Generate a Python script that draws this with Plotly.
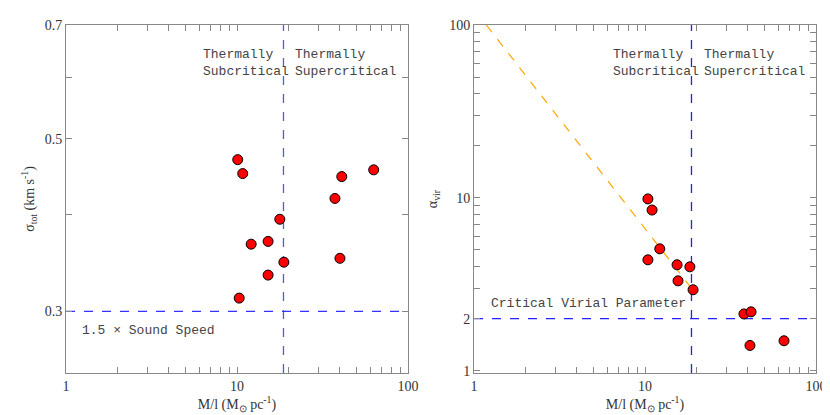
import plotly.graph_objects as go
import numpy as np

# Left panel data
ml_left = [10.1, 10.8, 17.8, 12.1, 15.2, 18.8, 15.2, 10.3, 37.4, 41.0, 40.0, 63.0]
sigma_tot = [0.470, 0.451, 0.394, 0.366, 0.369, 0.347, 0.334, 0.312, 0.419, 0.447, 0.351, 0.456]
# Right panel data
ml_right = [10.4, 11.0, 12.2, 10.4, 15.4, 18.3, 15.6, 19.1, 37.9, 41.7, 41.1, 65.0]
alpha_vir = [9.86, 8.5, 5.07, 4.38, 4.10, 3.99, 3.31, 2.94, 2.13, 2.19, 1.40, 1.49]
crit_ml = 18.7
sound_speed_line = 0.30
crit_alpha = 2.0
fit_x = [1.18, 19.0]
fit_y = [100.0, 2.94]
x_ticks = [1, 2, 3, 4, 5, 6, 7, 8, 9, 10, 20, 30, 40, 50, 60, 70, 80, 90, 100]
x_labels = ["1", "", "", "", "", "", "", "", "", "10", "", "", "", "", "", "", "", "", "100"]
y1_ticks = [0.3, 0.4, 0.5, 0.6, 0.7]
y1_labels = ["0.3", "", "0.5", "", "0.7"]
y2_ticks = [1, 2, 3, 4, 5, 6, 7, 8, 9, 10, 20, 30, 40, 50, 60, 70, 80, 90, 100]
y2_labels = ["1", "2", "", "", "", "", "", "", "", "10", "", "", "", "", "", "", "", "", "100"]

fig = go.Figure()
mk = dict(color="red", size=10, line=dict(color="black", width=1))
fig.add_trace(go.Scatter(x=fit_x, y=fit_y, mode="lines", line=dict(color="orange", dash="dash", width=1.2), xaxis="x2", yaxis="y2"))
fig.add_trace(go.Scatter(x=[crit_ml, crit_ml], y=[0.25, 0.7], mode="lines", line=dict(color="#5555ff", dash="dash", width=1.3), xaxis="x", yaxis="y"))
fig.add_trace(go.Scatter(x=[1, 100], y=[sound_speed_line]*2, mode="lines", line=dict(color="#3333ff", dash="dash", width=1.3), xaxis="x", yaxis="y"))
fig.add_trace(go.Scatter(x=[crit_ml, crit_ml], y=[0.97, 100], mode="lines", line=dict(color="#2222ff", dash="dash", width=1.3), xaxis="x2", yaxis="y2"))
fig.add_trace(go.Scatter(x=[1, 100], y=[crit_alpha]*2, mode="lines", line=dict(color="#2222ff", dash="dash", width=1.3), xaxis="x2", yaxis="y2"))
fig.add_trace(go.Scatter(x=ml_left, y=sigma_tot, mode="markers", marker=mk, xaxis="x", yaxis="y"))
fig.add_trace(go.Scatter(x=ml_right, y=alpha_vir, mode="markers", marker=mk, xaxis="x2", yaxis="y2"))

tf = dict(family="Liberation Mono", size=13, color="#444")
lf = dict(family="Liberation Serif", size=14, color="#333")
ax = dict(ticks="inside", ticklen=6, mirror="ticks", showline=True, linecolor="#888", linewidth=1,
          showgrid=False, zeroline=False, tickfont=lf, tickcolor="#888", automargin=False)
xt = "M/l (M<sub>⊙</sub> pc<sup>-1</sup>)"
fig.update_layout(
    width=830, height=415, showlegend=False, plot_bgcolor="white", paper_bgcolor="white",
    margin=dict(l=58, r=22, t=17, b=50),
    xaxis=dict(ax, type="log", domain=[0, 0.456], range=[0, 2], tickvals=x_ticks, ticktext=x_labels,
               title=dict(text=xt, font=lf, standoff=2)),
    yaxis=dict(ax, type="log", domain=[0, 1], range=[np.log10(0.25), np.log10(0.7)], tickvals=y1_ticks,
               ticktext=y1_labels,
               title=dict(text="σ<sub>tot</sub> (km s<sup>-1</sup>)", font=lf, standoff=6)),
    xaxis2=dict(ax, type="log", domain=[0.544, 1], range=[0, 2], tickvals=x_ticks, ticktext=x_labels, anchor="y2",
                title=dict(text=xt, font=lf, standoff=2)),
    yaxis2=dict(ax, type="log", domain=[0, 1], range=[np.log10(0.97), 2], tickvals=y2_ticks,
                ticktext=y2_labels, anchor="x2",
                title=dict(text="α<sub>vir</sub>", font=lf, standoff=8)),
)
ann = [
    (193, 55, "Thermally<br>Subcritical"),
    (285, 55, "Thermally<br>Supercritical"),
    (72, 322, "1.5 × Sound Speed"),
    (603, 55, "Thermally<br>Subcritical"),
    (694, 55, "Thermally<br>Supercritical"),
    (481, 295, "Critical Virial Parameter"),
]
for px, py, t in ann:
    fig.add_annotation(xref="paper", yref="paper", x=(px - 58) / 750, y=1 - (py - 17) / 348, text=t,
                       showarrow=False, xanchor="left", yanchor="middle", align="left", font=tf)
fig.write_html("out.html")
